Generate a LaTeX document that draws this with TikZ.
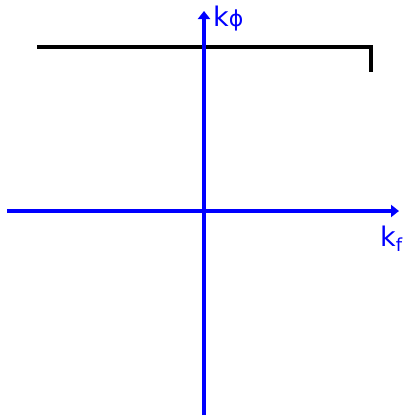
\documentclass[tikz,border=0pt]{standalone}
\usepackage{fontspec}
\setmainfont{DejaVu Sans}
\usetikzlibrary{arrows.meta,positioning}
\definecolor{axisblue}{HTML}{0000FF}
\tikzset{
  axisline/.style={axisblue, -{Triangle[length=8pt,width=12pt]}, line width=3.5pt},
  cutline/.style={black, line width=3.5pt},
  axislabel/.style={axisblue, font=\fontsize{27}{29}\selectfont, inner sep=0pt}
}
\begin{document}
\begin{tikzpicture}[x=1pt,y=-1pt]
  \useasboundingbox (0,0) rectangle (417,415);
  % axes
  \coordinate (xstart) at (7,211);
  \coordinate (xend) at (399,211);
  \coordinate (ystart) at (204,415);
  \coordinate (yend) at (204,11);
  \draw[cutline] (37,47) -- (371,47) -- (371,72);
  \draw[axisline] (xstart) -- (xend);
  \draw[axisline] (ystart) -- (yend);
  \node[axislabel, anchor=south west] (kphi) at (213,31) {k\fontsize{22}{24}\selectfont ϕ};
  \node[axislabel, anchor=north west] (kf) at (380,226) {k\raisebox{-0.3ex}{\fontsize{18}{20}\selectfont f}};
\end{tikzpicture}
\end{document}
